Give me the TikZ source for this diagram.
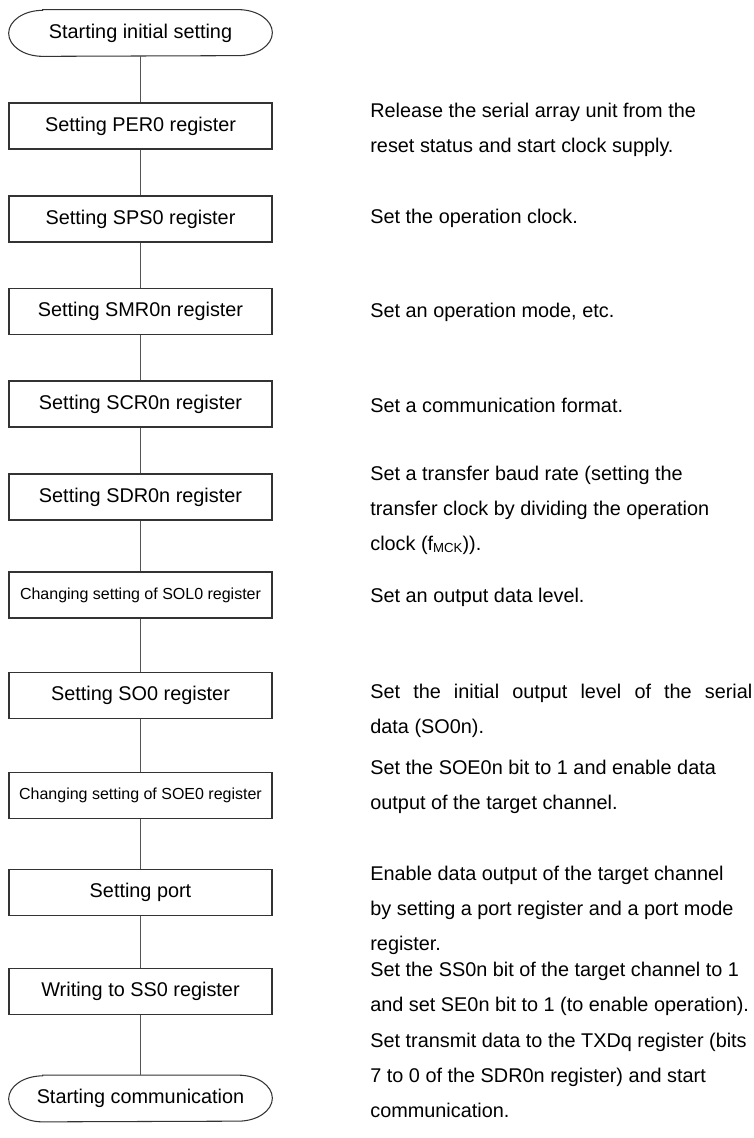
\documentclass[tikz,border=0pt]{standalone}
\usepackage{fontspec}
\setmainfont{Liberation Sans}
\usetikzlibrary{arrows.meta}
\definecolor{boxline}{HTML}{333333}
\definecolor{linkline}{HTML}{555555}
\tikzset{
  stepbox/.style={rectangle, draw=boxline, line width=0.6pt, minimum width=5.26cm, minimum height=0.92cm, inner sep=0pt, font=\fontsize{11.3}{13}\selectfont},
  smallbox/.style={stepbox, font=\fontsize{9.1}{11}\selectfont},
  terminal/.style={rectangle, minimum width=5.26cm, minimum height=0.92cm, inner sep=0pt, font=\fontsize{11.3}{13}\selectfont},
  desc/.style={anchor=west, align=left, inner sep=0pt, font=\fontsize{11.3}{19.9}\selectfont},
  link/.style={draw=linkline, line width=0.6pt}
}
\def\colx{2.81}
\def\descx{7.40}

\begin{document}
\begin{tikzpicture}
\useasboundingbox (0,0) rectangle (15.08,-22.76);

% --- Flow column ---
\node[terminal] (start) at (\colx,-0.66)  {Starting initial setting};
\node[stepbox]  (per)   at (\colx,-2.52)  {Setting PER0 register};
\node[stepbox]  (sps)   at (\colx,-4.38)  {Setting SPS0 register};
\node[stepbox]  (smr)   at (\colx,-6.23)  {Setting SMR0n register};
\node[stepbox]  (scr)   at (\colx,-8.08)  {Setting SCR0n register};
\node[stepbox]  (sdr)   at (\colx,-9.94)  {Setting SDR0n register};
\node[smallbox] (sol)   at (\colx,-11.90) {Changing setting of SOL0 register};
\node[stepbox]  (so)    at (\colx,-13.91) {Setting SO0 register};
\node[smallbox] (soe)   at (\colx,-15.91) {Changing setting of SOE0 register};
\node[stepbox]  (port)  at (\colx,-17.85) {Setting port};
\node[stepbox]  (ss)    at (\colx,-19.83) {Writing to SS0 register};
\node[terminal] (stop)  at (\colx,-21.97) {Starting communication};

% terminal outlines (elliptic ends)
\foreach \n in {start,stop} {
  \draw[draw=boxline, line width=0.6pt]
    ([xshift=0.68cm]\n.north west) -- ([xshift=-0.68cm]\n.north east)
    arc[start angle=90, end angle=-90, x radius=0.68cm, y radius=0.46cm]
    -- ([xshift=0.68cm]\n.south west)
    arc[start angle=270, end angle=90, x radius=0.68cm, y radius=0.46cm] -- cycle;
}

% --- Descriptions ---
\node[desc] (dper)  at (\descx,-2.60)  {Release the serial array unit from the\\reset status and start clock supply.};
\node[desc] (dsps)  at (\descx,-4.36)  {Set the operation clock.};
\node[desc] (dsmr)  at (\descx,-6.24)  {Set an operation mode, etc.};
\node[desc] (dscr)  at (\descx,-8.10)  {Set a communication format.};
\node[desc] (dsdr)  at (\descx,-10.20) {Set a transfer baud rate (setting the\\transfer clock by dividing the operation\\clock (f\raisebox{-0.2ex}{\fontsize{7.5}{8}\selectfont MCK})).};
\node[desc] (dsol)  at (\descx,-11.94) {Set an output data level.};
\node[desc] (dso)   at (\descx,-14.22) {\makebox[7.64cm][s]{Set the initial output level of the serial}\\data (SO0n).};
\node[desc] (dsoe)  at (\descx,-15.74) {Set the SOE0n bit to 1 and enable data\\output of the target channel.};
\node[desc] (dport) at (\descx,-18.20) {Enable data output of the target channel\\by setting a port register and a port mode\\register.};
\node[desc] (dss)   at (\descx,-19.78) {Set the SS0n bit of the target channel to 1\\and set SE0n bit to 1 (to enable operation).};
\node[desc] (dstop) at (\descx,-21.50) {Set transmit data to the TXDq register (bits\\7 to 0 of the SDR0n register) and start\\communication.};

% --- Connectors ---
\foreach \a/\b in {start/per,per/sps,sps/smr,smr/scr,scr/sdr,sdr/sol,sol/so,so/soe,soe/port,port/ss,ss/stop}
  \draw[link] (\a.south) -- (\b.north);

\end{tikzpicture}
\end{document}
